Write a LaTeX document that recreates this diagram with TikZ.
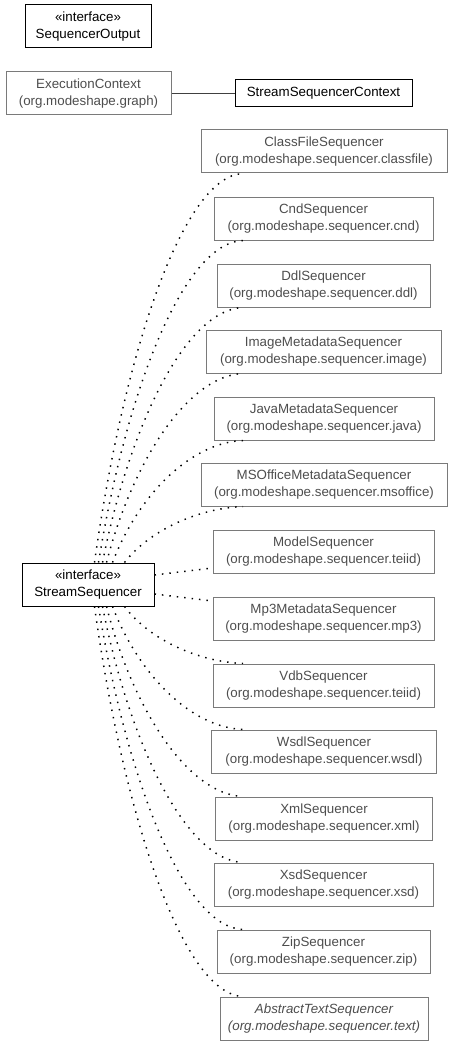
\documentclass[tikz,border=0pt]{standalone}
\usepackage{fontspec}
\setmainfont{Liberation Sans}
\usetikzlibrary{calc}
\definecolor{boxgray}{HTML}{7A7A7A}
\definecolor{txtgray}{HTML}{4D4D4D}
\begin{document}
\begin{tikzpicture}[x=0.75pt,y=-0.75pt,
  base/.style={draw,line width=0.75pt,inner sep=0pt,align=center,
    font=\fontsize{10pt}{12.75pt}\selectfont,minimum height=32.25pt},
  blackbox/.style={base,draw=black,text=black},
  graybox/.style={base,draw=boxgray,text=txtgray},
  dep/.style={line width=1.1pt,dash pattern=on 1.1pt off 4.5pt,black},
  assoc/.style={line width=0.75pt,draw=black!75}]
\useasboundingbox (0,0) rectangle (453,1045);
\node[blackbox,minimum width=94.5pt] (so) at (88,26.5) {«interface»\\SequencerOutput};
\node[graybox,minimum width=123.75pt] (ec) at (88.5,93.5) {ExecutionContext\\(org.modeshape.graph)};
\node[blackbox,minimum width=132.75pt,minimum height=20.25pt] (ssc) at (323.5,93.5) {StreamSequencerContext};
\node[blackbox,minimum width=99pt] (ss) at (88,584.5) {«interface»\\StreamSequencer};
\node[graybox,minimum width=184.5pt] (cf) at (324,151.5) {ClassFileSequencer\\(org.modeshape.sequencer.classfile)};
\node[graybox,minimum width=164.25pt] (cnd) at (323.5,218.5) {CndSequencer\\(org.modeshape.sequencer.cnd)};
\node[graybox,minimum width=159.75pt] (ddl) at (323.5,285.5) {DdlSequencer\\(org.modeshape.sequencer.ddl)};
\node[graybox,minimum width=176.25pt] (img) at (323.5,351.5) {ImageMetadataSequencer\\(org.modeshape.sequencer.image)};
\node[graybox,minimum width=165pt] (java) at (324,418.5) {JavaMetadataSequencer\\(org.modeshape.sequencer.java)};
\node[graybox,minimum width=184.5pt] (mso) at (324,484.5) {MSOfficeMetadataSequencer\\(org.modeshape.sequencer.msoffice)};
\node[graybox,minimum width=165.75pt] (mdl) at (323.5,551.5) {ModelSequencer\\(org.modeshape.sequencer.teiid)};
\node[graybox,minimum width=165.75pt] (mp3) at (323.5,618.5) {Mp3MetadataSequencer\\(org.modeshape.sequencer.mp3)};
\node[graybox,minimum width=165.75pt] (vdb) at (323.5,685.5) {VdbSequencer\\(org.modeshape.sequencer.teiid)};
\node[graybox,minimum width=168.75pt] (wsdl) at (324,751.5) {WsdlSequencer\\(org.modeshape.sequencer.wsdl)};
\node[graybox,minimum width=162.75pt] (xml) at (324,818.5) {XmlSequencer\\(org.modeshape.sequencer.xml)};
\node[graybox,minimum width=164.25pt] (xsd) at (323.5,884.5) {XsdSequencer\\(org.modeshape.sequencer.xsd)};
\node[graybox,minimum width=159.75pt] (zip) at (323.5,951.5) {ZipSequencer\\(org.modeshape.sequencer.zip)};
\node[graybox,minimum width=156pt,font=\fontsize{10pt}{12.75pt}\selectfont\itshape] (abs) at (324,1018.5) {AbstractTextSequencer\\(org.modeshape.sequencer.text)};
\coordinate (ex) at (243,0);
% association
\draw[assoc] (ec) -- (ssc);
% dependencies upward
\draw[dep] ($(ss.north west)+(73,0)$) .. controls +(30,-214) and +(-59,2) .. (ex |- cf.south);
\draw[dep] ($(ss.north west)+(77,0)$) .. controls +(29,-178) and +(-58,2) .. (ex |- cnd.south);
\draw[dep] ($(ss.north west)+(81,0)$) .. controls +(28,-141) and +(-56,2) .. (ex |- ddl.south);
\draw[dep] ($(ss.north west)+(85,0)$) .. controls +(27,-104) and +(-54,2) .. (ex |- img.south);
\draw[dep] ($(ss.north west)+(91,0)$) .. controls +(26,-68) and +(-52,2) .. (ex |- java.south);
\draw[dep] ($(ss.north west)+(103,0)$) .. controls +(24,-31) and +(-47,2) .. (ex |- mso.south);
% side
\draw[dep] ($(ss.east)+(0,-9.5)$) -- ($(mdl.west)+(0,16.5)$);
\draw[dep] ($(ss.east)+(0,9.5)$) -- ($(mp3.west)+(0,-17.5)$);
% dependencies downward
\draw[dep] ($(ss.south west)+(103,0)$) .. controls +(24,32) and +(-47,-2) .. (ex |- vdb.north);
\draw[dep] ($(ss.south west)+(91,0)$) .. controls +(26,68) and +(-52,-2) .. (ex |- wsdl.north);
\draw[dep] ($(ss.south west)+(85,0)$) .. controls +(27,105) and +(-54,-2) .. (ex |- xml.north);
\draw[dep] ($(ss.south west)+(81,0)$) .. controls +(28,141) and +(-56,-2) .. (ex |- xsd.north);
\draw[dep] ($(ss.south west)+(77,0)$) .. controls +(29,178) and +(-58,-2) .. (ex |- zip.north);
\draw[dep] ($(ss.south west)+(73,0)$) .. controls +(30,215) and +(-59,-2) .. (ex |- abs.north);
\end{tikzpicture}
\end{document}
